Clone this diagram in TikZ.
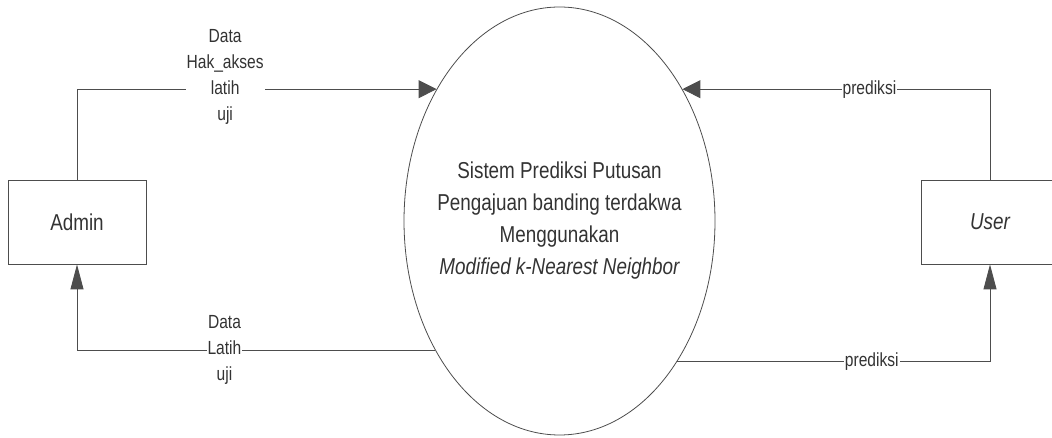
\documentclass[tikz,border=0pt]{standalone}
\usepackage{fontspec}
\setmainfont{Liberation Sans}[FakeStretch=0.82]
\usetikzlibrary{arrows.meta,shapes.geometric}
\definecolor{linegray}{HTML}{4D4D4D}
\definecolor{textgray}{HTML}{333333}
\tikzstyle{entity}    = [draw=linegray,rectangle,line width=0.9pt,minimum width=138pt,minimum height=84pt,inner sep=0pt,text=textgray,font=\fontsize{23}{28}\selectfont]
\tikzstyle{process}   = [draw=linegray,ellipse,line width=0.8pt,minimum width=311pt,minimum height=428pt,inner xsep=-20pt,inner ysep=0pt,align=center,text=textgray,font=\fontsize{23}{32}\selectfont]
\tikzstyle{flowh}     = [draw=linegray,line width=0.9pt,-{Triangle[length=18pt,width=18pt]}]
\tikzstyle{flowv}     = [draw=linegray,line width=0.9pt,-{Triangle[length=25pt,width=13pt]}]
\tikzstyle{flowlabel} = [fill=white,inner sep=1pt,align=center,text=textgray,font=\fontsize{19}{26}\selectfont]

\begin{document}
\begin{tikzpicture}[x=1pt,y=1pt]
\useasboundingbox (0,0) rectangle (1052,438);

\node[entity]  (admin) at (77,216)    {Admin};
\node[entity]  (user)  at (990,216)   {\itshape User};
\node[process] (sys)   at (559.5,217) {Sistem Prediksi Putusan\\Pengajuan banding terdakwa\\Menggunakan\\\itshape Modified k-Nearest Neighbor};

\draw[flowh] (admin.north) |- node[flowlabel,pos=0.706,yshift=12pt] {Data\\Hak\_akses\\latih\\uji} (sys.133.2);
\draw[flowv] (sys.226.8)   -| node[flowlabel,pos=0.294] {Data\\Latih\\uji} (admin.south);
\draw[flowh] (user.north)  |- node[flowlabel,pos=0.696] {prediksi} (sys.47);
\draw[flowv] (sys.310.4)   -| node[flowlabel,pos=0.311] {prediksi} (user.south);

\end{tikzpicture}
\end{document}
